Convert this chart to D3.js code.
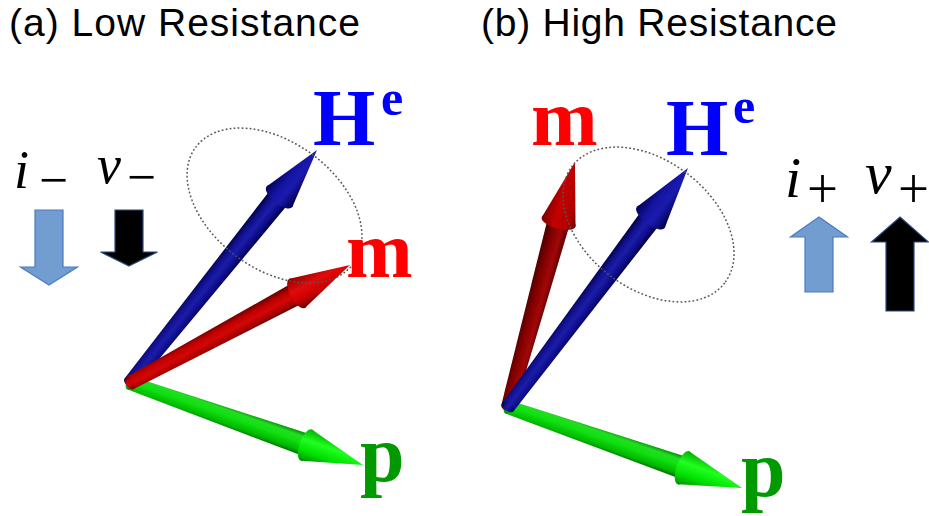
<!DOCTYPE html>
<html><head><meta charset="utf-8">
<script src="https://cdn.jsdelivr.net/npm/d3@7"></script>
<style>html,body{margin:0;padding:0;background:#fff;overflow:hidden}</style>
</head><body>
<svg id="c" width="929" height="516"></svg>
<script>
// ---------------- data ----------------
const panelTitles = ["(a) Low Resistance", "(b) High Resistance"];
const vectorNames = ["p", "He", "m"];
// vector components (x right, y up), one entry per vector in vectorNames
const lowVecX  = [233, 187, 220];
const lowVecY  = [-82, 233, 118];
const highVecX = [234, 180, 67];
const highVecY = [-81, 239, 245];
// precession ellipse of m around He: centre (x,y up), semi-axes, tilt
const precCentreX = [144.5, 140.5];
const precCentreY = [177.5, 182.5];
const precRx = [98, 96];
const precRy = [63.5, 64];
const precTilt = [36.4, 37.5];
// current / voltage indicators
const driveSymbols = ["i", "v"];
const driveSigns = ["\u2212", "+"];
const driveDirection = [-1, 1];            // -1 = down (low R), +1 = up (high R)
const currentMagnitude = [75, 75];
const voltageMagnitude = [56, 94];

// ---------------- drawing ----------------
const svg = d3.select("#c");
svg.append("rect").attr("width", 929).attr("height", 516).attr("fill", "#fff");
const defs = svg.append("defs");
function grad(id, stops) {
  const g = defs.append("linearGradient").attr("id", id)
    .attr("x1", 0).attr("y1", 0).attr("x2", 0).attr("y2", 1);
  stops.forEach(s => g.append("stop").attr("offset", s[0]).attr("stop-color", s[1]));
}
grad("blueS", [[0,"#000040"],[0.25,"#10108c"],[0.5,"#1c1caa"],[0.8,"#0a0a82"],[1,"#000038"]]);
grad("blueH", [[0,"#00005a"],[0.35,"#1515a2"],[0.6,"#1a1ab0"],[1,"#00004a"]]);
grad("redAS", [[0,"#600000"],[0.3,"#c00000"],[0.55,"#d40606"],[0.85,"#a00000"],[1,"#500000"]]);
grad("redAH", [[0,"#900000"],[0.4,"#e00a0a"],[0.7,"#d00000"],[1,"#700000"]]);
grad("redBS", [[0,"#4a0000"],[0.4,"#880000"],[0.7,"#a00808"],[1,"#600000"]]);
grad("redBH", [[0,"#800000"],[0.4,"#c40000"],[0.8,"#b00000"],[1,"#700000"]]);
grad("greenS", [[0,"#008800"],[0.2,"#22dd22"],[0.45,"#10e010"],[0.8,"#00b800"],[1,"#007000"]]);
grad("greenH", [[0,"#00b000"],[0.35,"#20ff20"],[0.7,"#00e000"],[1,"#009000"]]);

const panelOrigin = [[130, 383], [508, 407]];
const gradsFor = [
  {p:["greenS","greenH"], He:["blueS","blueH"], m:["redAS","redAH"]},
  {p:["greenS","greenH"], He:["blueS","blueH"], m:["redBS","redBH"]}
];
const drawOrder = [["p","He","m"], ["p","m","He"]];
const headSize = [{hl:60, hw:33}, {hl:62, hw:35}];

function drawVector(g, x0, y0, x1, y1, gs, hs) {
  const dx = x1 - x0, dy = y1 - y0, L = Math.hypot(dx, dy);
  const ang = Math.atan2(dy, dx) * 180 / Math.PI;
  const a = g.append("g").attr("transform", `translate(${x0},${y0}) rotate(${ang})`);
  const hl = hs.hl, hw = hs.hw, w0 = 14, w1 = 23, sb = L - hl + 4;
  a.append("path").attr("d", `M0,${-w0/2} L${sb},${-w1/2} L${sb},${w1/2} L0,${w0/2} Z`)
    .attr("fill", `url(#${gs[0]})`);
  a.append("ellipse").attr("cx", 0).attr("cy", 0).attr("rx", 4).attr("ry", w0/2)
    .attr("fill", `url(#${gs[0]})`);
  a.append("ellipse").attr("cx", L - hl).attr("cy", 0).attr("rx", 7).attr("ry", hw/2)
    .attr("fill", `url(#${gs[1]})`);
  a.append("path").attr("d", `M${L-hl},${-hw/2} L${L},0 L${L-hl},${hw/2} Z`)
    .attr("fill", `url(#${gs[1]})`);
}

const vecX = [lowVecX, highVecX], vecY = [lowVecY, highVecY];

[0, 1].forEach(pi => {
  const [ox, oy] = panelOrigin[pi];
  const xs = d3.scaleLinear().domain([0, 100]).range([ox, ox + 100]);
  const ys = d3.scaleLinear().domain([0, 100]).range([oy, oy - 100]);
  const g = svg.append("g");

  drawOrder[pi].forEach(name => {
    const k = vectorNames.indexOf(name);
    drawVector(g, xs(0), ys(0), xs(vecX[pi][k]), ys(vecY[pi][k]), gradsFor[pi][name], headSize[pi]);
  });

  // precession ellipse
  g.append("ellipse")
    .attr("transform", `translate(${xs(precCentreX[pi])},${ys(precCentreY[pi])}) rotate(${precTilt[pi]})`)
    .attr("rx", precRx[pi]).attr("ry", precRy[pi])
    .attr("fill", "none").attr("stroke", "#555").attr("stroke-width", 1.5)
    .attr("stroke-dasharray", "1.8,2.2");

  // title
  svg.append("text").attr("x", pi === 0 ? 9 : 481).attr("y", 36)
    .attr("font-family", "Liberation Sans, Arial, sans-serif").attr("font-size", 39)
    .attr("textLength", pi === 0 ? 351 : 356).attr("lengthAdjust", "spacing")
    .attr("fill", "#000").text(panelTitles[pi]);
});

// vector labels
const serifB = "Liberation Serif, Times New Roman, serif";
function lbl(x, y, t, size, col) {
  svg.append("text").attr("x", x).attr("y", y).attr("font-family", serifB)
    .attr("font-weight", "bold").attr("font-size", size).attr("fill", col).text(t);
}
// panel a
lbl(313, 145, "H", 80, "#0000ff"); lbl(381, 115, "e", 50, "#0000ff");
lbl(346, 277, "m", 80, "#ff0000");
lbl(360, 481, "p", 80, "#009900");
// panel b
lbl(531, 145, "m", 80, "#ff0000");
lbl(666, 155, "H", 80, "#0000ff"); lbl(733, 123, "e", 50, "#0000ff");
lbl(741, 496, "p", 80, "#009900");

// drive indicators (current i, voltage v)
const serif = "Liberation Serif, Times New Roman, serif";
function symbol(x, y, t, size) {
  svg.append("text").attr("x", x).attr("y", y).attr("font-family", serif)
    .attr("font-style", "italic").attr("font-size", size).attr("fill", "#000").text(t);
}
function sign(x, y, t, size, len) {
  svg.append("text").attr("x", x).attr("y", y).attr("font-family", serif)
    .attr("font-size", size).attr("fill", "#000")
    .attr("textLength", len).attr("lengthAdjust", "spacingAndGlyphs").text(t);
}
// low resistance
symbol(14, 188, driveSymbols[0], 54); sign(39, 198, driveSigns[0], 54, 29);
symbol(97, 183, driveSymbols[1], 54); sign(127, 195, driveSigns[0], 54, 29);
// high resistance
symbol(785, 197, driveSymbols[0], 58); sign(807, 208, driveSigns[1], 56, 31);
symbol(865, 193, driveSymbols[1], 60); sign(898, 208, driveSigns[1], 56, 31);

function blockArrow(cx, tipY, mag, dir, headLen, fill, stroke) {
  // position along the arrow measured back from its tip
  const y = d3.scaleLinear().domain([0, 1]).range([tipY, tipY + dir]);
  const sw = 14, hw = 28.5;
  const base = y(mag), hb = y(headLen);
  const p = d3.path();
  p.moveTo(cx, tipY);
  p.lineTo(cx + hw, hb); p.lineTo(cx + sw, hb); p.lineTo(cx + sw, base);
  p.lineTo(cx - sw, base); p.lineTo(cx - sw, hb); p.lineTo(cx - hw, hb);
  p.closePath();
  svg.append("path").attr("d", p.toString()).attr("fill", fill)
    .attr("stroke", stroke).attr("stroke-width", 1.2).attr("stroke-linejoin", "miter");
}
// low R: pointing down
blockArrow(49, 285, currentMagnitude[0], driveDirection[0], 18, "#729dd1", "#4a7cbc");
blockArrow(129, 266, voltageMagnitude[0], driveDirection[0], 14, "#000", "#2a4a80");
// high R: pointing up
blockArrow(819, 217, currentMagnitude[1], driveDirection[1], 20, "#729dd1", "#4a7cbc");
blockArrow(900, 217, voltageMagnitude[1], driveDirection[1], 25, "#000", "#2a4a80");
</script>
</body></html>
